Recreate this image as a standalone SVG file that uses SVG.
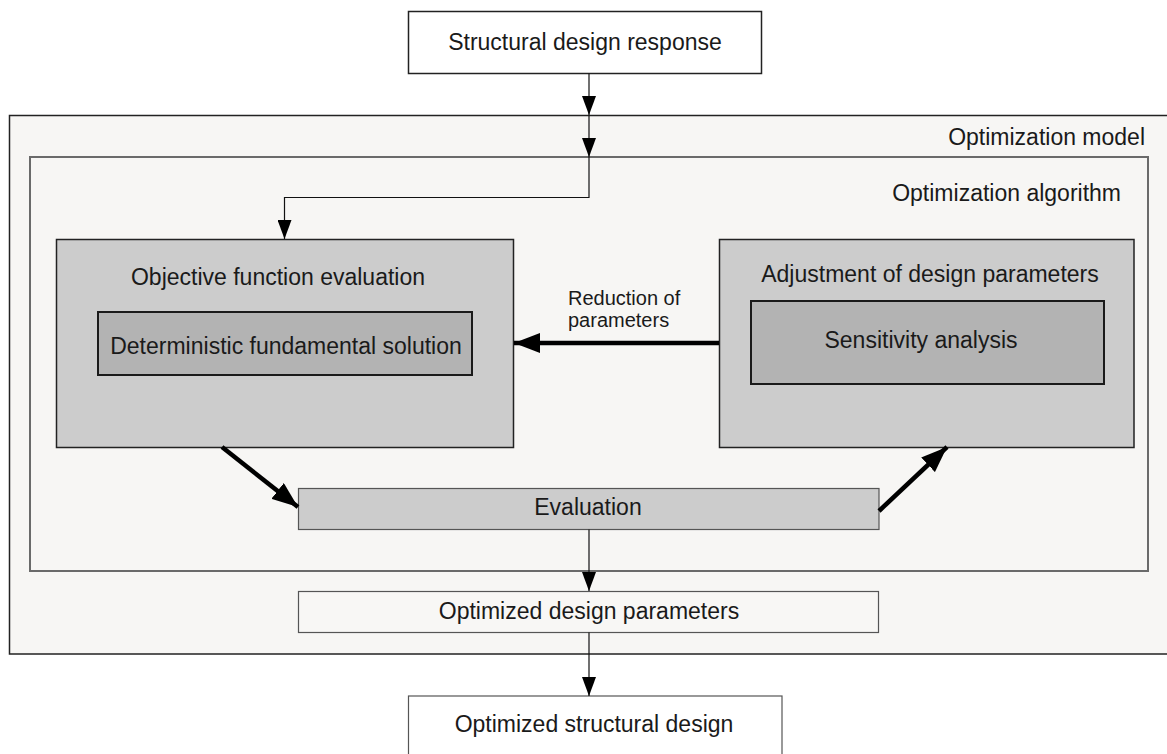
<svg xmlns="http://www.w3.org/2000/svg" width="1167" height="754" viewBox="0 0 1167 754">
  <style>
    text { font-family: "Liberation Sans", Arial, sans-serif; fill: #1a1a1a; }
    .lbl { font-size: 23px; }
    .mid { text-anchor: middle; }
    .small { font-size: 20px; }
    .box { stroke: #222; stroke-width: 1.5; }
    .thin { fill: none; stroke: #111; stroke-width: 1.2; marker-end: url(#head); }
    .thick { fill: none; stroke: #000; stroke-width: 4.5; marker-end: url(#bighead); }
  </style>
  <defs>
    <marker id="head" markerUnits="userSpaceOnUse" markerWidth="20" markerHeight="14" refX="19" refY="7" orient="auto">
      <path d="M0,0 L19,7 L0,14 Z" fill="#000"/>
    </marker>
    <marker id="bighead" markerUnits="userSpaceOnUse" markerWidth="27" markerHeight="20" refX="26" refY="10" orient="auto">
      <path d="M0,0 L26,10 L0,20 Z" fill="#000"/>
    </marker>
  </defs>

  <rect width="1167" height="754" fill="#ffffff"/>

  <!-- containers -->
  <g id="optimization-model">
    <rect x="9.5" y="115.5" width="1175" height="538.5" fill="#f7f6f4" class="box"/>
    <text class="lbl" x="1145" y="145" text-anchor="end">Optimization model</text>
  </g>
  <g id="optimization-algorithm">
    <rect x="30" y="157" width="1118" height="414" fill="#f7f6f4" stroke="#6a6a6a" stroke-width="2"/>
    <text class="lbl" x="1121" y="201" text-anchor="end">Optimization algorithm</text>
  </g>

  <!-- nodes -->
  <g id="structural-design-response">
    <rect x="408.5" y="11.5" width="353" height="62" fill="#ffffff" class="box"/>
    <text class="lbl mid" x="585" y="50">Structural design response</text>
  </g>

  <g id="objective-function-evaluation">
    <rect x="56.5" y="239.5" width="457" height="208" fill="#cccccc" class="box"/>
    <text class="lbl mid" x="278" y="285">Objective function evaluation</text>
    <g id="deterministic-fundamental-solution">
      <rect x="98" y="312" width="374" height="63" fill="#b3b3b3" stroke="#1a1a1a" stroke-width="2"/>
      <text class="lbl mid" x="286" y="354">Deterministic fundamental solution</text>
    </g>
  </g>

  <g id="adjustment-of-design-parameters">
    <rect x="719.5" y="239.5" width="414.5" height="208" fill="#cccccc" class="box"/>
    <text class="lbl mid" x="930" y="282">Adjustment of design parameters</text>
    <g id="sensitivity-analysis">
      <rect x="751" y="301" width="353" height="83" fill="#b3b3b3" stroke="#1a1a1a" stroke-width="2"/>
      <text class="lbl mid" x="921" y="348">Sensitivity analysis</text>
    </g>
  </g>

  <g id="evaluation">
    <rect x="298.5" y="488.5" width="580.5" height="41" fill="#cccccc" stroke="#555" stroke-width="1.2"/>
    <text class="lbl mid" x="588" y="515">Evaluation</text>
  </g>

  <g id="optimized-design-parameters">
    <rect x="298.5" y="591.5" width="580" height="41" fill="#f8f7f5" stroke="#555" stroke-width="1.2"/>
    <text class="lbl mid" x="589" y="619">Optimized design parameters</text>
  </g>

  <g id="optimized-structural-design">
    <rect x="408.5" y="696" width="373.5" height="70" fill="#ffffff" stroke="#555" stroke-width="1.2"/>
    <text class="lbl mid" x="594" y="732">Optimized structural design</text>
  </g>

  <!-- connectors -->
  <g id="connectors">
    <path class="thin" d="M589,73.5 V115"/>
    <path class="thin" d="M589,115.5 V157"/>
    <path class="thin" d="M589,157 V197.5 H284.5 V239"/>
    <path class="thin" d="M589,529.5 V591"/>
    <path class="thin" d="M589,632.5 V696"/>
    <path class="thick" d="M719,343 H514"/>
    <path class="thick" d="M222,447 L298,507"/>
    <path class="thick" d="M879,511 L947,447"/>
    <text class="small" x="568" y="305">Reduction of</text>
    <text class="small" x="568" y="327">parameters</text>
  </g>
</svg>
